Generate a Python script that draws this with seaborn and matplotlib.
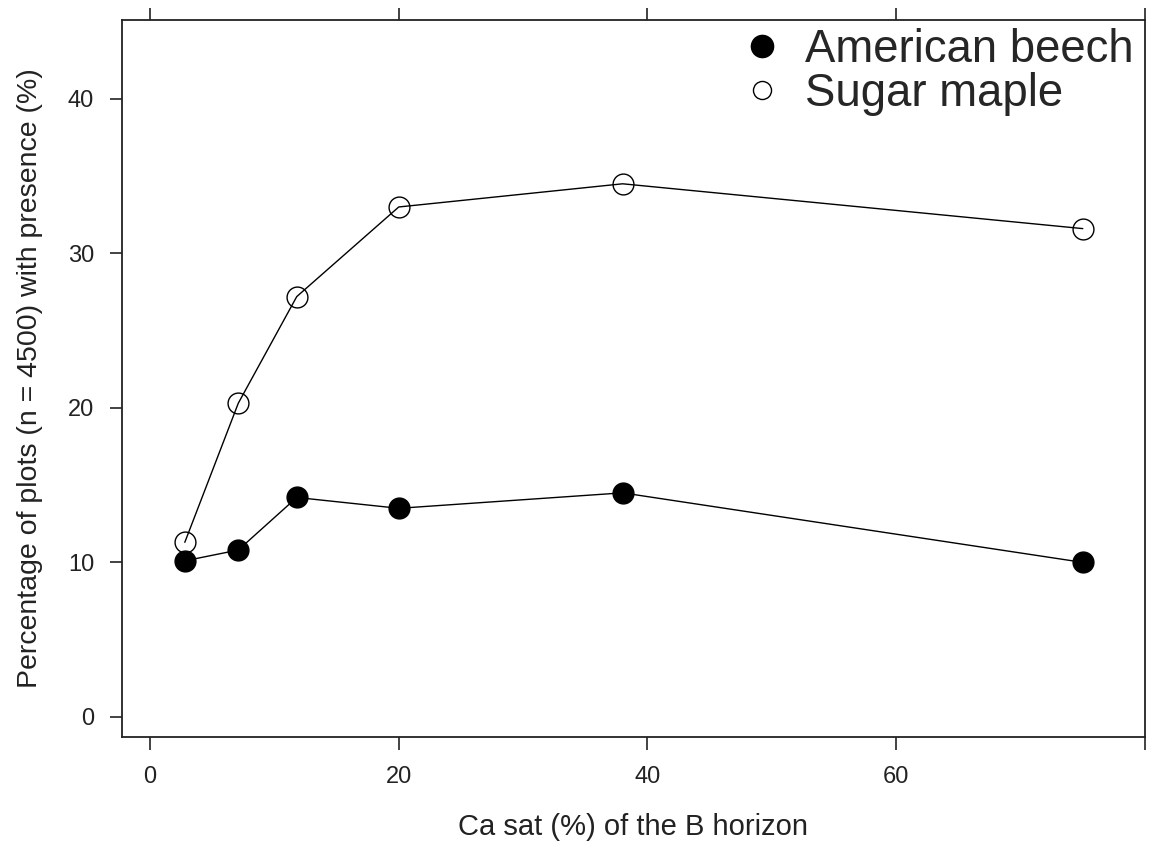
import matplotlib
matplotlib.use("Agg")
import matplotlib.pyplot as plt
from matplotlib import font_manager
from matplotlib.lines import Line2D
import seaborn as sns
import pandas as pd

# ---- data ----
ca_sat = [2.8, 7.1, 11.8, 20.0, 38.0, 75.0]
beech = [10.1, 10.8, 14.2, 13.5, 14.5, 10.0]
maple = [11.3, 20.3, 27.2, 33.0, 34.5, 31.6]
species = ["American beech", "Sugar maple"]
x_ticks = [0, 20, 40, 60, 80]
x_tick_labels = ["0", "20", "40", "60", ""]
y_ticks = [0, 10, 20, 30, 40]
x_label = "Ca sat (%) of the B horizon"
y_label = "Percentage of plots (n = 4500) with presence (%)"

df = pd.DataFrame({
    "ca": ca_sat * 2,
    "pct": beech + maple,
    "species": [species[0]] * len(ca_sat) + [species[1]] * len(ca_sat),
})

sns.set_theme(style="white")
avail = {f.name for f in font_manager.fontManager.ttflist}
narrow = "Liberation Sans Narrow" if "Liberation Sans Narrow" in avail else "Liberation Sans"
plt.rcParams["font.family"] = ["Liberation Sans", "DejaVu Sans"]

fig = plt.figure(figsize=(11.49, 8.44), dpi=100)
ax = fig.add_axes([122 / 1149, 1 - 737 / 844, (1145 - 122) / 1149, (737 - 20) / 844])

sub_b = df[df.species == species[0]]
sub_m = df[df.species == species[1]]
sns.lineplot(data=sub_b, x="ca", y="pct", ax=ax, color="black", lw=1.0,
             marker="o", markersize=15, markerfacecolor="black",
             markeredgecolor="black", markeredgewidth=1.0, legend=False)
sns.lineplot(data=sub_m, x="ca", y="pct", ax=ax, color="black", lw=1.0,
             marker="o", markersize=15, markerfacecolor="none",
             markeredgecolor="black", markeredgewidth=1.0, legend=False)

ax.set_xlim(-2.25, 79.9)
ax.set_ylim(-1.3, 45.1)
ax.set_xticks(x_ticks)
ax.set_yticks(y_ticks)
ax.set_xticklabels(x_tick_labels, fontsize=17, family=narrow, color="#222222")
ax.set_yticklabels([str(t) for t in y_ticks], fontsize=17, family=narrow, color="#222222")
ax.tick_params(axis="x", which="both", bottom=True, top=True, labeltop=False,
               direction="out", length=9, width=1.2, color="#222222", pad=12)
ax.tick_params(axis="y", which="both", left=True, right=False,
               direction="out", length=9, width=1.2, color="#222222", pad=11)
for s in ax.spines.values():
    s.set_visible(True)
    s.set_color("#222222")
    s.set_linewidth(1.3)

ax.set_xlabel(x_label, fontsize=21, color="#222222", labelpad=18)
ax.set_ylabel(y_label, fontsize=20.5, color="#222222", labelpad=18)

handles = [
    Line2D([], [], ls="none", marker="o", markersize=16, markerfacecolor="black",
           markeredgecolor="black"),
    Line2D([], [], ls="none", marker="o", markersize=13, markerfacecolor="none",
           markeredgecolor="black", markeredgewidth=1.0),
]
ax.legend(handles, species, loc="upper right", bbox_to_anchor=(1.011, 1.02),
          frameon=False, fontsize=32.8, handletextpad=0.45, labelspacing=0.0,
          borderaxespad=0.1, handlelength=1.0)

fig.savefig("out.png", dpi=100, facecolor="white")
